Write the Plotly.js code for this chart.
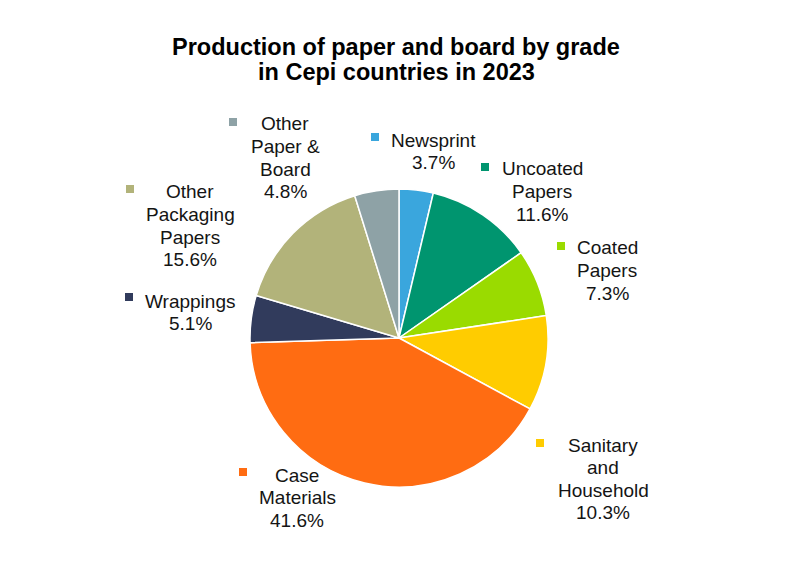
<!DOCTYPE html>
<html>
<head>
<meta charset="utf-8">
<script src="https://cdn.plot.ly/plotly-3.0.1.min.js"></script>
<style>html,body{margin:0;padding:0;background:#fff;}#chart{width:800px;height:572px;}</style>
</head>
<body>
<div id="chart"></div>
<script>
// ---- data ----
const categories = ['Newsprint', 'Uncoated Papers', 'Coated Papers', 'Sanitary and Household',
                    'Case Materials', 'Wrappings', 'Other Packaging Papers', 'Other Paper & Board'];
const shares = [3.7, 11.6, 7.3, 10.3, 41.6, 5.1, 15.6, 4.8];
const titleLines = ['Production of paper and board by grade', 'in Cepi countries in 2023'];

// ---- styles / layout constants ----
const colors = ['#3AA6DD', '#00956F', '#9ADB00', '#FFCC00', '#FF6C12', '#313B5C', '#B2B37A', '#8EA2A6'];
const labelWraps = [
  ['Newsprint'], ['Uncoated', 'Papers'], ['Coated', 'Papers'], ['Sanitary', 'and', 'Household'],
  ['Case', 'Materials'], ['Wrappings'], ['Other', 'Packaging', 'Papers'], ['Other', 'Paper &', 'Board']
];
// label block placement in pixels: [centre x, first line y, square x, square y]
const labelPos = [
  [433, 140, 375, 137], [542, 169, 485, 167], [607, 248, 561, 246], [603, 445, 540, 443],
  [297, 475, 243, 472], [190, 301, 129, 297], [190, 192, 130, 189], [285, 124, 233, 122]
];
const W = 800, H = 572, LH = 22.6;
const px = x => x / W, py = y => 1 - y / H;

const annotations = [];
const shapes = [];
const txtFont = {family: 'Liberation Sans, Arial, sans-serif', size: 19, color: '#141414'};

titleLines.forEach((t, i) => {
  annotations.push({
    text: '<b>' + t + '</b>', xref: 'paper', yref: 'paper', x: px(396), y: py(47 + i * 25),
    xanchor: 'center', yanchor: 'middle', showarrow: false,
    font: {family: 'Liberation Sans, Arial, sans-serif', size: 23.5, color: '#000'}
  });
});

categories.forEach((c, i) => {
  const lines = labelWraps[i].concat([shares[i].toFixed(1) + '%']);
  const [cx, y0, sx, sy] = labelPos[i];
  lines.forEach((ln, j) => {
    annotations.push({
      text: ln, xref: 'paper', yref: 'paper', x: px(cx), y: py(y0 + j * LH),
      xanchor: 'center', yanchor: 'middle', showarrow: false, font: txtFont
    });
  });
  shapes.push({
    type: 'rect', xref: 'paper', yref: 'paper',
    x0: px(sx - 4), x1: px(sx + 4), y0: py(sy + 4), y1: py(sy - 4),
    fillcolor: colors[i], line: {width: 0}
  });
});

const cx = 399, cy = 338, r = 149;
const trace = {
  type: 'pie',
  labels: categories,
  values: shares,
  sort: false,
  direction: 'clockwise',
  rotation: 0,
  textinfo: 'none',
  hoverinfo: 'label+percent',
  marker: {colors: colors, line: {color: '#ffffff', width: 1.5}},
  domain: {x: [px(cx - r), px(cx + r)], y: [py(cy + r), py(cy - r)]},
  showlegend: false
};

const layout = {
  width: W, height: H,
  margin: {l: 0, r: 0, t: 0, b: 0},
  paper_bgcolor: '#fff',
  showlegend: false,
  annotations: annotations,
  shapes: shapes
};

Plotly.newPlot('chart', [trace], layout, {displayModeBar: false, staticPlot: true});
</script>
</body>
</html>
